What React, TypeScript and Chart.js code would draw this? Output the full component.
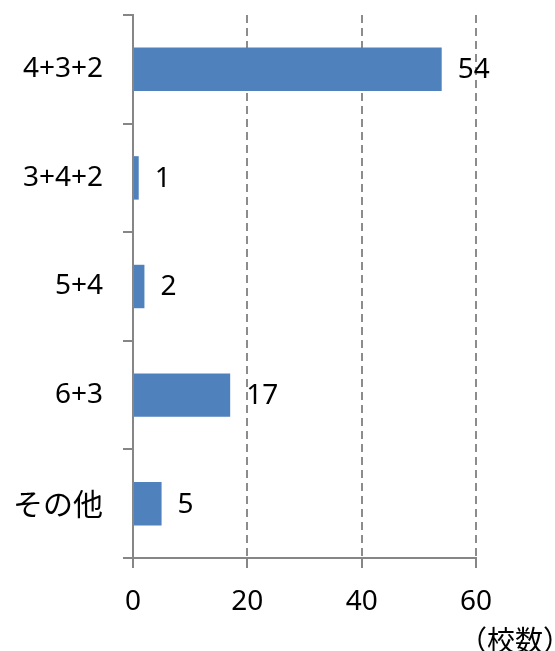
import React, { useEffect, useRef } from "react";
import { Chart, registerables } from "chart.js";

Chart.register(...registerables);

const categories: string[] = ["4+3+2", "3+4+2", "5+4", "6+3", "その他"];
const counts: number[] = [54, 1, 2, 17, 5];
const xMin = 0;
const xMax = 60;
const xStep = 20;
const unitLabel = "（校数）";

const LATIN = '"Noto Sans", "Noto Sans CJK JP", sans-serif';
const CJK = '"Noto Sans CJK JP", "Noto Sans", sans-serif';
const AXIS_COLOR = "#868686";

const dataLabels = {
  id: "dataLabels",
  afterDatasetsDraw(chart: any) {
    const ctx = chart.ctx;
    const meta = chart.getDatasetMeta(0);
    ctx.save();
    ctx.font = `28px ${LATIN}`;
    ctx.fillStyle = "#000";
    ctx.textAlign = "left";
    ctx.textBaseline = "middle";
    meta.data.forEach((el: any, i: number) => {
      ctx.fillText(String(counts[i]), el.x + 16, el.y + 1);
    });
    ctx.restore();
  },
};

const unitText = {
  id: "unitText",
  afterDraw(chart: any) {
    const ctx = chart.ctx;
    const area = chart.chartArea;
    ctx.save();
    ctx.font = `28px ${CJK}`;
    ctx.fillStyle = "#000";
    ctx.textAlign = "left";
    ctx.textBaseline = "middle";
    ctx.fillText(unitLabel, area.right - 17, area.bottom + 82);
    ctx.restore();
  },
};

export default function App() {
  const ref = useRef<HTMLCanvasElement | null>(null);

  useEffect(() => {
    if (!ref.current) return;
    const chart = new Chart(ref.current, {
      type: "bar",
      data: {
        labels: categories,
        datasets: [
          {
            data: counts,
            backgroundColor: "#4F81BD",
            borderWidth: 0,
            barPercentage: 0.5,
            categoryPercentage: 0.8,
          },
        ],
      },
      options: {
        indexAxis: "y",
        animation: false,
        responsive: false,
        layout: { padding: { top: 15, right: 79, left: 0, bottom: 0 } },
        plugins: {
          legend: { display: false },
          tooltip: { enabled: false },
        },
        scales: {
          x: {
            min: xMin,
            max: xMax,
            ticks: {
              stepSize: xStep,
              color: "#000",
              font: { size: 28, family: LATIN },
              padding: 17,
            },
            grid: {
              color: (c: any) => (c.tick && c.tick.value === 0 ? "rgba(0,0,0,0)" : "#8c8c8c"),
              tickColor: AXIS_COLOR,
              lineWidth: 2,
              tickBorderDash: [],
              tickLength: 10,
              drawOnChartArea: true,
            },
            border: { color: AXIS_COLOR, width: 2, dash: [8, 5] },
            afterFit: (s: any) => {
              s.height = 93;
              s.paddingLeft = 0;
              s.paddingRight = 0;
            },
          },
          y: {
            ticks: {
              color: "#000",
              font: (c: any) =>
                c.index === 4
                  ? { size: 30, family: CJK }
                  : { size: 28, family: LATIN },
              padding: 20,
            },
            grid: {
              offset: true,
              drawOnChartArea: false,
              color: AXIS_COLOR,
              lineWidth: 2,
              tickLength: 10,
            },
            border: { color: AXIS_COLOR, width: 2 },
            afterFit: (s: any) => {
              s.width = 133;
              s.paddingTop = 0;
              s.paddingBottom = 0;
            },
          },
        },
      },
      plugins: [dataLabels, unitText],
    });
    return () => chart.destroy();
  }, []);

  return (
    <div style={{ position: "absolute", left: 0, top: 0, width: 555, height: 651, background: "#fff" }}>
      <canvas ref={ref} width={555} height={651} />
    </div>
  );
}
